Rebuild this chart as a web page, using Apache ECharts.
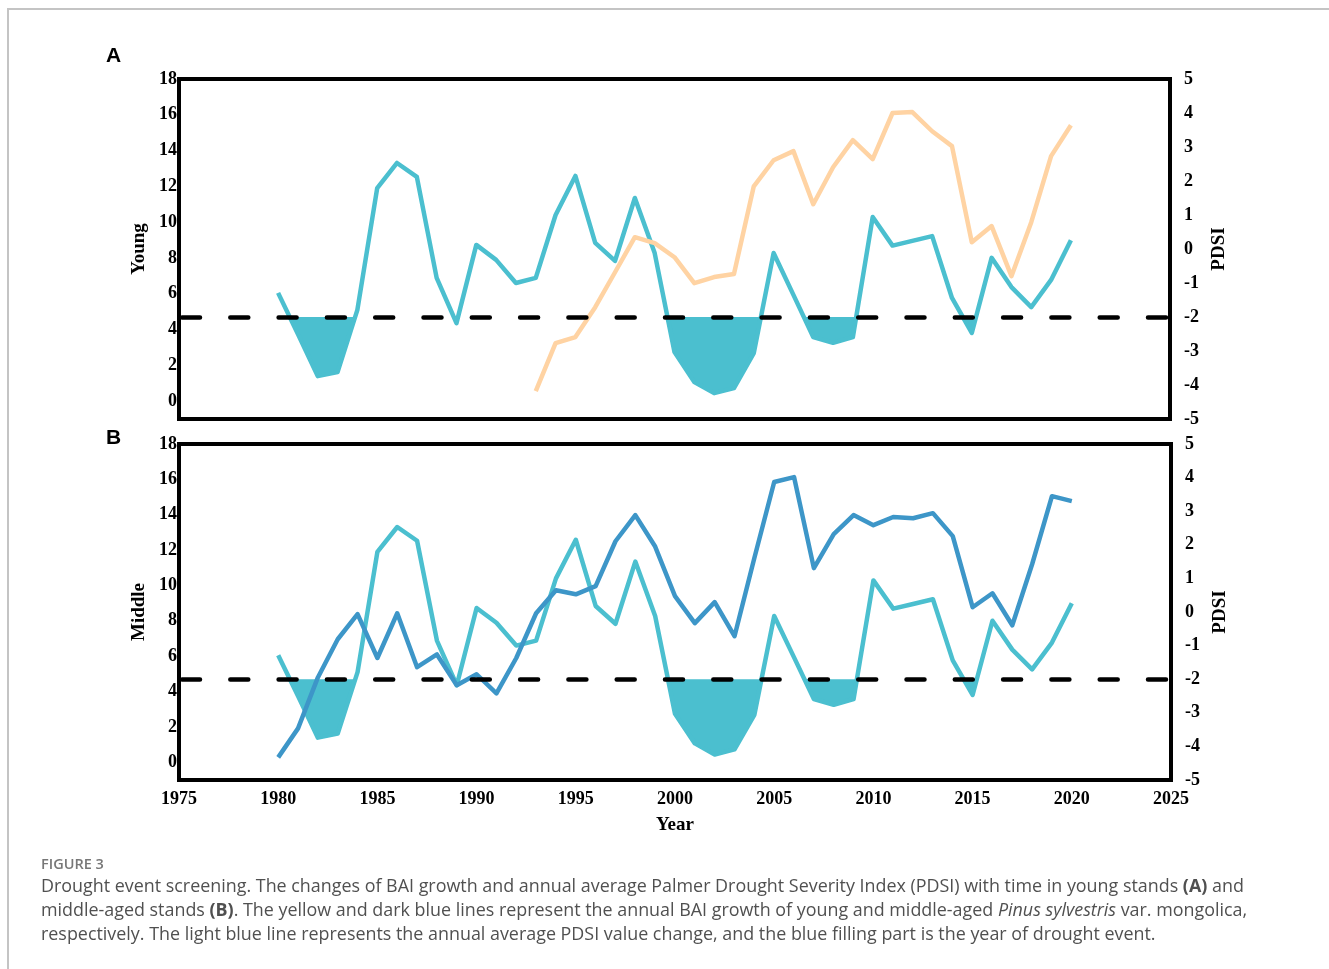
<!DOCTYPE html>
<html>
<head>
<meta charset="utf-8">
<script src="https://cdn.jsdelivr.net/npm/echarts@6/dist/echarts.min.js"></script>
<style>
  html, body { margin: 0; padding: 0; background: #fff; }
  #chart { width: 1329px; height: 969px; }
</style>
</head>
<body>
<div id="chart"></div>
<script>
// Years covered by the PDSI and middle-aged BAI records
const years = [1980, 1981, 1982, 1983, 1984, 1985, 1986, 1987, 1988, 1989,
  1990, 1991, 1992, 1993, 1994, 1995, 1996, 1997, 1998, 1999,
  2000, 2001, 2002, 2003, 2004, 2005, 2006, 2007, 2008, 2009,
  2010, 2011, 2012, 2013, 2014, 2015, 2016, 2017, 2018, 2019, 2020];

// Annual average Palmer Drought Severity Index
const pdsi = [-1.29, -2.5, -3.74, -3.62, -1.79, 1.79, 2.53, 2.12, -0.85, -2.18,
  0.12, -0.32, -1.0, -0.85, 1.0, 2.15, 0.18, -0.35, 1.5, -0.12,
  -3.03, -3.91, -4.24, -4.09, -3.06, -0.12, -1.35, -2.59, -2.76, -2.59,
  0.94, 0.1, 0.24, 0.38, -1.44, -2.47, -0.26, -1.12, -1.71, -0.91, 0.26];

// Young stands: BAI growth from 1993 on
const youngYears = [1993, 1994, 1995, 1996, 1997, 1998, 1999, 2000, 2001, 2002,
  2003, 2004, 2005, 2006, 2007, 2008, 2009, 2010, 2011, 2012,
  2013, 2014, 2015, 2016, 2017, 2018, 2019, 2020];
const youngBAI = [0.56, 3.24, 3.58, 5.25, 7.2, 9.16, 8.83, 8.04, 6.59, 6.93,
  7.1, 12.0, 13.46, 13.97, 11.0, 13.07, 14.58, 13.52, 16.1, 16.15,
  15.08, 14.25, 8.88, 9.78, 6.98, 10.0, 13.69, 15.42];

// Middle-aged stands: BAI growth
const middleBAI = [0.28, 1.92, 4.8, 6.96, 8.38, 5.9, 8.43, 5.38, 6.1, 4.36,
  4.98, 3.9, 5.9, 8.43, 9.73, 9.5, 9.96, 12.5, 13.98, 12.2,
  9.4, 7.87, 9.06, 7.13, 11.55, 15.85, 16.13, 10.98, 12.9, 13.98,
  13.41, 13.87, 13.8, 14.09, 12.79, 8.77, 9.56, 7.75, 11.2, 15.05, 14.77];

// Drought threshold on the PDSI scale
const droughtThreshold = -2;

const xTickYears = [1975, 1980, 1985, 1990, 1995, 2000, 2005, 2010, 2015, 2020, 2025];
const baiTicks = [0, 2, 4, 6, 8, 10, 12, 14, 16, 18];
const pdsiTicks = [-5, -4, -3, -2, -1, 0, 1, 2, 3, 4, 5];

const TEAL = '#4bbfcf';
const PEACH = '#ffd3a3';
const DARK_BLUE = '#3d96c8';
const SERIF = '"Liberation Serif", "Times New Roman", serif';
const SANS = '"Open Sans", "Noto Sans", sans-serif';

const pair = (xs, ys) => xs.map((x, i) => [x, ys[i]]);
const pdsiData = pair(years, pdsi);
const youngData = pair(youngYears, youngBAI);
const middleData = pair(years, middleBAI);

const tickFont = { fontFamily: SERIF, fontWeight: 'bold', fontSize: 18, color: '#000' };
const nameFont = { fontFamily: SERIF, fontWeight: 'bold', fontSize: 19, color: '#000' };

function xAxis(gridIndex, withLabels) {
  return {
    type: 'value', gridIndex, min: 1975, max: 2025, interval: 5,
    axisLine: { show: false }, axisTick: { show: false }, splitLine: { show: false },
    axisLabel: withLabels ? Object.assign({
      margin: 10,
      formatter: v => xTickYears.includes(v) ? String(v) : ''
    }, tickFont) : { show: false },
    name: withLabels ? 'Year' : '',
    nameLocation: 'middle', nameGap: 36, nameTextStyle: nameFont
  };
}

function baiAxis(gridIndex, name) {
  return {
    type: 'value', gridIndex, position: 'left', min: -1, max: 18, interval: 1,
    axisLine: { show: false }, axisTick: { show: false }, splitLine: { show: false },
    axisLabel: Object.assign({
      margin: 2,
      formatter: v => baiTicks.includes(v) ? String(v) : ''
    }, tickFont),
    name, nameLocation: 'middle', nameGap: 30, nameRotate: 90, nameTextStyle: nameFont
  };
}

function pdsiAxis(gridIndex) {
  return {
    type: 'value', gridIndex, position: 'right', min: -5, max: 5, interval: 1,
    axisLine: { show: false }, axisTick: { show: false }, splitLine: { show: false },
    axisLabel: Object.assign({
      margin: 14, align: 'left',
      formatter: v => pdsiTicks.includes(v) ? String(v) : ''
    }, tickFont),
    name: 'PDSI', nameLocation: 'middle', nameGap: 38, nameRotate: 90, nameTextStyle: nameFont
  };
}

// Drought areas: every run of years where PDSI falls below the threshold
// becomes one polygon, closed against the threshold line.
function droughtRuns() {
  const t = droughtThreshold;
  const runs = [];
  let cur = null;
  for (let i = 0; i < pdsiData.length; i++) {
    const [x, y] = pdsiData[i];
    if (y < t) {
      if (!cur) cur = [[x, t]];
      cur.push([x, y]);
    }
    if (i < pdsiData.length - 1) {
      const [x1, y1] = pdsiData[i + 1];
      if ((y < t) !== (y1 < t)) {
        const xc = x + (t - y) / (y1 - y) * (x1 - x);
        if (y < t) { cur.push([xc, t]); runs.push(cur); cur = null; }
        else { cur = [[xc, t]]; }
      }
    } else if (cur) {
      cur.push([x, t]); runs.push(cur); cur = null;
    }
  }
  return runs;
}

function renderDrought(params, api) {
  if (params.dataIndex !== 0) return null;
  return {
    type: 'group',
    children: droughtRuns().map(run => ({
      type: 'polygon',
      shape: { points: run.map(p => api.coord(p)) },
      style: { fill: TEAL, stroke: null }
    }))
  };
}

function droughtFill(xi, yi) {
  return {
    type: 'custom', xAxisIndex: xi, yAxisIndex: yi, data: pdsiData,
    renderItem: renderDrought, silent: true, z: 1,
    encode: { x: 0, y: 1 }
  };
}

function pdsiLine(xi, yi) {
  return {
    type: 'line', xAxisIndex: xi, yAxisIndex: yi, data: pdsiData,
    showSymbol: false, silent: true, z: 3,
    lineStyle: { color: TEAL, width: 4.5, join: 'round' },
    itemStyle: { color: TEAL },
    markLine: {
      silent: true, symbol: ['none', 'none'], label: { show: false },
      lineStyle: { color: '#000', width: 4.5, type: [18, 30.3], dashOffset: -3, cap: 'round' },
      data: [{ yAxis: droughtThreshold }]
    }
  };
}

function baiLine(xi, yi, data, color) {
  return {
    type: 'line', xAxisIndex: xi, yAxisIndex: yi, data,
    showSymbol: false, silent: true, z: 4,
    lineStyle: { color, width: 4.5, join: 'round' },
    itemStyle: { color }
  };
}

const CAPTION_SIZE = 17.9;
const captionRich = {
  b: { fontFamily: SANS, fontSize: CAPTION_SIZE, fontWeight: 'bold', color: '#505050' },
  i: { fontFamily: SANS, fontSize: CAPTION_SIZE, fontStyle: 'italic', color: '#505050' }
};
function captionLine(y, text) {
  return {
    type: 'text', left: 41, top: y,
    style: { text, rich: captionRich, fontFamily: SANS, fontSize: CAPTION_SIZE, fill: '#505050' }
  };
}

const option = {
  animation: false,
  backgroundColor: '#fff',
  grid: [
    { left: 179, top: 79, width: 991, height: 340, show: true, borderColor: '#000', borderWidth: 4, backgroundColor: 'transparent' },
    { left: 179, top: 444, width: 992, height: 336, show: true, borderColor: '#000', borderWidth: 4, backgroundColor: 'transparent' }
  ],
  xAxis: [xAxis(0, false), xAxis(1, true)],
  yAxis: [baiAxis(0, 'Young'), pdsiAxis(0), baiAxis(1, 'Middle'), pdsiAxis(1)],
  series: [
    droughtFill(0, 1),
    pdsiLine(0, 1),
    baiLine(0, 0, youngData, PEACH),
    droughtFill(1, 3),
    pdsiLine(1, 3),
    baiLine(1, 2, middleData, DARK_BLUE)
  ],
  graphic: [
    { type: 'rect', shape: { x: 8, y: 9, width: 1400, height: 1000 },
      style: { fill: 'none', stroke: '#c4c4c4', lineWidth: 2 }, silent: true, z: -10 },
    { type: 'text', left: 106, top: 46,
      style: { text: 'A', fontFamily: '"Liberation Sans", Arial, sans-serif', fontWeight: 'bold', fontSize: 21, fill: '#000' } },
    { type: 'text', left: 106, top: 428,
      style: { text: 'B', fontFamily: '"Liberation Sans", Arial, sans-serif', fontWeight: 'bold', fontSize: 21, fill: '#000' } },
    { type: 'text', left: 41, top: 857,
      style: { text: 'FIGURE 3', fontFamily: SANS, fontSize: 14.5, fontWeight: 600, fill: '#777' } },
    captionLine(878, 'Drought event screening. The changes of BAI growth and annual average Palmer Drought Severity Index (PDSI) with time in young stands {b|(A)} and'),
    captionLine(902, 'middle-aged stands {b|(B)}. The yellow and dark blue lines represent the annual BAI growth of young and middle-aged {i|Pinus sylvestris} var. mongolica,'),
    captionLine(926, 'respectively. The light blue line represents the annual average PDSI value change, and the blue filling part is the year of drought event.')
  ]
};

const chart = echarts.init(document.getElementById('chart'), null, { renderer: 'canvas' });
chart.setOption(option);
</script>
</body>
</html>
